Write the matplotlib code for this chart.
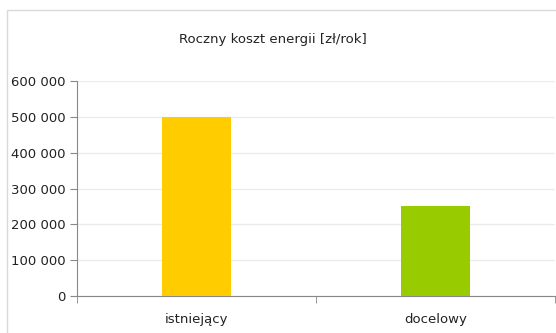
import matplotlib.pyplot as plt
from matplotlib.patches import Rectangle
from matplotlib.ticker import FuncFormatter

kategorie = ["istniejący", "docelowy"]
koszt = [500000, 250000]
kolory = ["#ffcc00", "#99cc00"]
tytul = "Roczny koszt energii [zł/rok]"

plt.rcParams['font.family'] = ['DejaVu Sans']

fig = plt.figure(figsize=(5.56, 3.33), dpi=100)
ax = fig.add_axes([77/556, 37/333, 478/556, 215/333])

x = list(range(len(kategorie)))
ax.bar(x, koszt, width=0.29, color=kolory, zorder=3)

ax.set_xlim(-0.5, 1.5)
ax.set_ylim(0, 600000)
ax.set_yticks(range(0, 600001, 100000))
ax.yaxis.set_major_formatter(FuncFormatter(lambda v, p: f"{int(v):,}".replace(",", " ")))
ax.set_xticks(x)
ax.set_xticklabels(kategorie)
ax.set_xticks([-0.5, 0.5, 1.5], minor=True)
ax.tick_params(axis='x', which='major', length=0, pad=12, labelsize=9.5, colors='#222222')
ax.tick_params(axis='x', which='minor', length=5, color='#888888')
ax.tick_params(axis='y', length=5, color='#888888', labelsize=9.5, labelcolor='#222222')

ax.grid(axis='y', color='#ebebeb', linewidth=1, zorder=0)
for s in ['top', 'right']:
    ax.spines[s].set_visible(False)
for s in ['left', 'bottom']:
    ax.spines[s].set_color('#888888')

fig.text(273/556, 1 - 39/333, tytul, ha='center', va='center', fontsize=9.5, color='#222222')

fig.patches.append(Rectangle((7/556, -0.1), 1.2, 1 - 10/333 + 0.1, transform=fig.transFigure,
                             fill=False, edgecolor='#d9d9d9', linewidth=1))

fig.savefig("out.png", dpi=100)
